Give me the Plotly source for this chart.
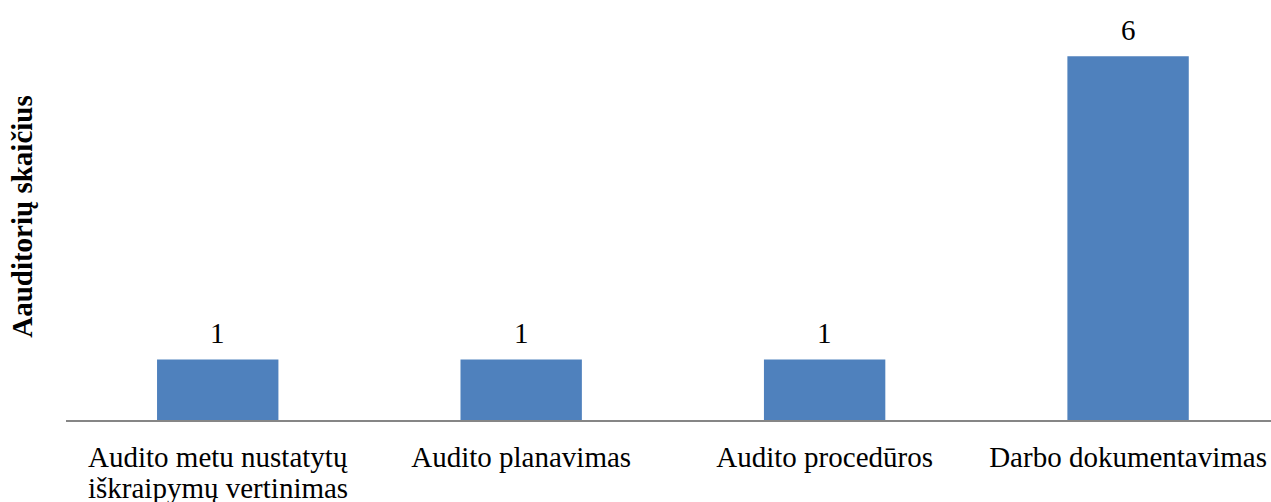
import plotly.graph_objects as go

categories = [
    "Audito metu nustatytų\niškraipymų vertinimas",
    "Audito planavimas",
    "Audito procedūros",
    "Darbo dokumentavimas",
]
values = [1, 1, 1, 6]

bar_color = "#4F81BD"
font_family = "Liberation Serif, Times New Roman, serif"
fsize = 29

x_pos = list(range(len(categories)))
first_lines = [c.split("\n")[0] for c in categories]

fig = go.Figure()
fig.add_trace(go.Bar(
    x=x_pos,
    y=values,
    width=0.4,
    marker=dict(color=bar_color, line=dict(width=0)),
    hoverinfo="skip",
))

# value labels above each bar
for i, v in zip(x_pos, values):
    fig.add_annotation(
        x=i, y=v, text=str(v), showarrow=False,
        yanchor="bottom", yshift=8,
        font=dict(family=font_family, size=fsize, color="#000000"),
    )

# continuation lines of wrapped category labels (tight line spacing)
for i, c in zip(x_pos, categories):
    rest = c.split("\n")[1:]
    for k, line in enumerate(rest, start=1):
        fig.add_annotation(
            x=i, xref="x", yref="paper", y=0,
            xanchor="center", yanchor="middle", yshift=-39 - 29 * k,
            text=line, showarrow=False,
            font=dict(family=font_family, size=fsize, color="#000000"),
        )

# vertical axis title
fig.add_annotation(
    xref="paper", yref="paper", x=0, y=0.508,
    xanchor="center", yanchor="middle", xshift=-44,
    text="<b>Aauditorių skaičius</b>", textangle=-90, showarrow=False,
    font=dict(family=font_family, size=fsize, color="#000000"),
)

fig.update_layout(
    width=1271, height=502,
    margin=dict(l=66, r=0, t=20, b=82),
    paper_bgcolor="white", plot_bgcolor="white",
    showlegend=False,
    font=dict(family=font_family, size=fsize, color="#000000"),
    xaxis=dict(
        tickmode="array",
        tickvals=x_pos,
        ticktext=first_lines,
        range=[-0.5, 3.471],
        showgrid=False, zeroline=False,
        showline=True, linecolor="#868686", linewidth=2,
        ticks="", ticklabelstandoff=10,
        tickfont=dict(family=font_family, size=fsize, color="#000000"),
    ),
    yaxis=dict(
        range=[0, 6.6],
        showgrid=False, zeroline=False, showline=False,
        showticklabels=False, ticks="",
    ),
)

fig.write_html("out.html")
